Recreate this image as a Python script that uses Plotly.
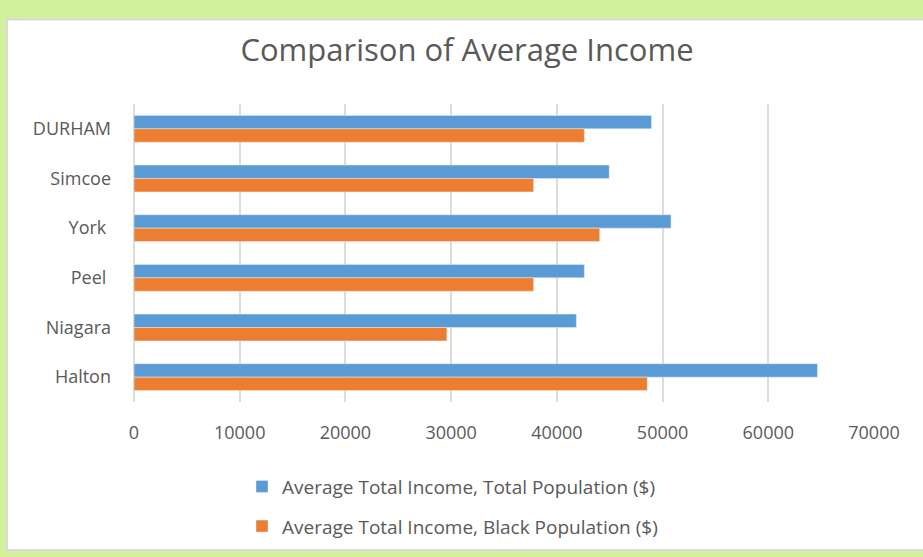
import plotly.graph_objects as go


regions = ["DURHAM", "Simcoe", "York\u00a0", "Peel\u00a0", "Niagara", "Halton"]

total_population = [48950, 44950, 50800, 42600, 41850, 64650]

black_population = [42600, 37800, 44050, 37800, 29600, 48550]

x_ticks = [0, 10000, 20000, 30000, 40000, 50000, 60000, 70000]


text_color = "#595959"
font_name = "Open Sans"


fig = go.Figure()


fig.add_trace(
    go.Bar(
        y=regions,
        x=total_population,
        orientation="h",
        name="Average Total Income, Total Population ($)",
        legendgroup="total",
        marker_color="#5B9BD5"
    )
)


fig.add_trace(
    go.Bar(
        y=regions,
        x=black_population,
        orientation="h",
        name="Average Total Income, Black Population ($)",
        legendgroup="black",
        marker_color="#ED7D31"
    )
)


# white chart panel on the green page
fig.add_shape(
    type="rect",
    xref="paper",
    yref="paper",
    x0=(7 - 134) / 740,
    x1=(935 - 134) / 740,
    y0=(404 - 553) / 300,
    y1=(404 - 19) / 300,
    fillcolor="white",
    line=dict(color="#d9d9d9", width=2),
    layer="below"
)


fig.update_layout(
    width=923,
    height=557,
    margin=dict(l=134, r=49, t=104, b=153),
    paper_bgcolor="#d3f09f",
    plot_bgcolor="rgba(0,0,0,0)",
    barmode="group",
    bargap=0.46,
    bargroupgap=0,
    font=dict(family=font_name, color=text_color, size=18),
    title=dict(
        text="Comparison of Average Income",
        x=467 / 923,
        xref="container",
        xanchor="center",
        y=1 - 50 / 557,
        yref="container",
        yanchor="middle",
        font=dict(size=31, color=text_color, family=font_name)
    ),
    legend=dict(
        orientation="v",
        x=(242 - 134) / 740,
        xanchor="left",
        y=(404 - 470) / 300,
        yanchor="top",
        bgcolor="rgba(0,0,0,0)",
        font=dict(size=19, color=text_color),
        itemwidth=30,
        tracegroupgap=12
    ),
    showlegend=True
)


fig.update_xaxes(
    range=[0, 70000],
    tickvals=x_ticks,
    ticktext=[str(v) for v in x_ticks],
    showgrid=True,
    gridcolor="#dcdcdc",
    gridwidth=2,
    zeroline=True,
    zerolinecolor="#dcdcdc",
    zerolinewidth=2,
    showline=False,
    ticks="",
    ticklabelstandoff=18,
    tickfont=dict(size=18, color=text_color)
)


fig.update_yaxes(
    autorange="reversed",
    showgrid=False,
    showline=False,
    ticks="",
    ticklabelstandoff=22,
    tickfont=dict(size=18, color=text_color)
)


fig.write_html(
    "out.html",
    config={"displayModeBar": False},
    post_script="document.body.style.margin='0';document.body.style.background='#d3f09f';"
)
